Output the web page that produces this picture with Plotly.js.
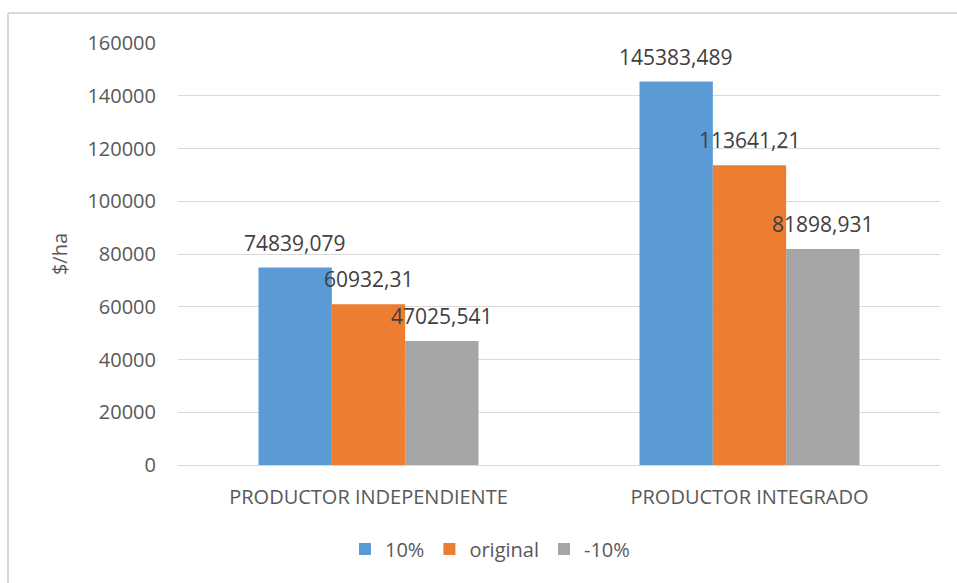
<!DOCTYPE html>
<html>
<head>
<meta charset="utf-8">
<script src="https://cdn.plot.ly/plotly-3.0.1.min.js"></script>
<style>html,body{margin:0;padding:0;background:#fff;}#chart{width:957px;height:583px;}</style>
</head>
<body>
<div id="chart"></div>
<script>
const categories = ["PRODUCTOR INDEPENDIENTE", "PRODUCTOR INTEGRADO"];
const seriesNames = ["10%", "original", "-10%"];
const values10 = [74839.079, 145383.489];
const valuesOriginal = [60932.31, 113641.21];
const valuesMinus10 = [47025.541, 81898.931];
const yTicks = [0, 20000, 40000, 60000, 80000, 100000, 120000, 140000, 160000];

const colors = ["#5B9BD5", "#ED7D31", "#A5A5A5"];
const allValues = [values10, valuesOriginal, valuesMinus10];
const FONT = "Open Sans, sans-serif";

const W = 957, H = 583, L = 178, R = 17, T = 43, B = 118;
const pw = W - L - R, ph = H - T - B;
const px2x = p => (p - L) / pw;
const px2y = p => (H - B - p) / ph;

const fmt = v => String(v).replace('.', ',');

const traces = allValues.map((vals, i) => ({
  type: 'bar',
  name: seriesNames[i],
  x: categories,
  y: vals,
  marker: {color: colors[i]},
  hoverinfo: 'none'
}));

const barOffsetPx = pw / 2 * (1 - 0.4226) / 3;
const annotations = [];
allValues.forEach((vals, i) => {
  vals.forEach((v, j) => {
    annotations.push({
      x: categories[j], y: v, xref: 'x', yref: 'y',
      text: fmt(v), showarrow: false,
      xshift: (i - 1) * barOffsetPx, yshift: 25,
      yanchor: 'middle', xanchor: 'center',
      font: {family: FONT, size: 21, color: '#404040'}
    });
  });
});

const layout = {
  width: W, height: H,
  margin: {l: L, r: R, t: T, b: B, pad: 0},
  paper_bgcolor: '#ffffff', plot_bgcolor: '#ffffff',
  barmode: 'group', bargap: 0.4226, bargroupgap: 0,
  font: {family: FONT, size: 20, color: '#595959'},
  showlegend: true,
  legend: {
    orientation: 'h', x: px2x(490), y: px2y(549), xanchor: 'center', yanchor: 'middle',
    font: {family: FONT, size: 20, color: '#595959'},
    itemwidth: 30, traceorder: 'normal'
  },
  xaxis: {
    type: 'category', showgrid: false, zeroline: false, showline: false,
    ticks: '', ticklabelstandoff: 18,
    tickfont: {family: FONT, size: 20, color: '#595959'}
  },
  yaxis: {
    range: [0, 160000], tickvals: yTicks, ticktext: yTicks.map(String),
    showgrid: true, gridcolor: '#d9d9d9', gridwidth: 1,
    zeroline: true, zerolinecolor: '#d9d9d9', zerolinewidth: 1,
    showline: false, ticks: '', ticklabelstandoff: 21,
    tickfont: {family: FONT, size: 20, color: '#595959'},
    title: {text: '$/ha', standoff: 14, font: {family: FONT, size: 20, color: '#595959'}},
    automargin: false
  },
  annotations: annotations,
  shapes: [
    {type: 'line', xref: 'paper', yref: 'paper', x0: px2x(8), x1: px2x(960), y0: px2y(13), y1: px2y(13), line: {color: '#d9d9d9', width: 2}},
    {type: 'line', xref: 'paper', yref: 'paper', x0: px2x(8), x1: px2x(8), y0: px2y(13), y1: px2y(590), line: {color: '#d9d9d9', width: 2}}
  ]
};

Plotly.newPlot('chart', traces, layout, {staticPlot: true, displayModeBar: false});
</script>
</body>
</html>
